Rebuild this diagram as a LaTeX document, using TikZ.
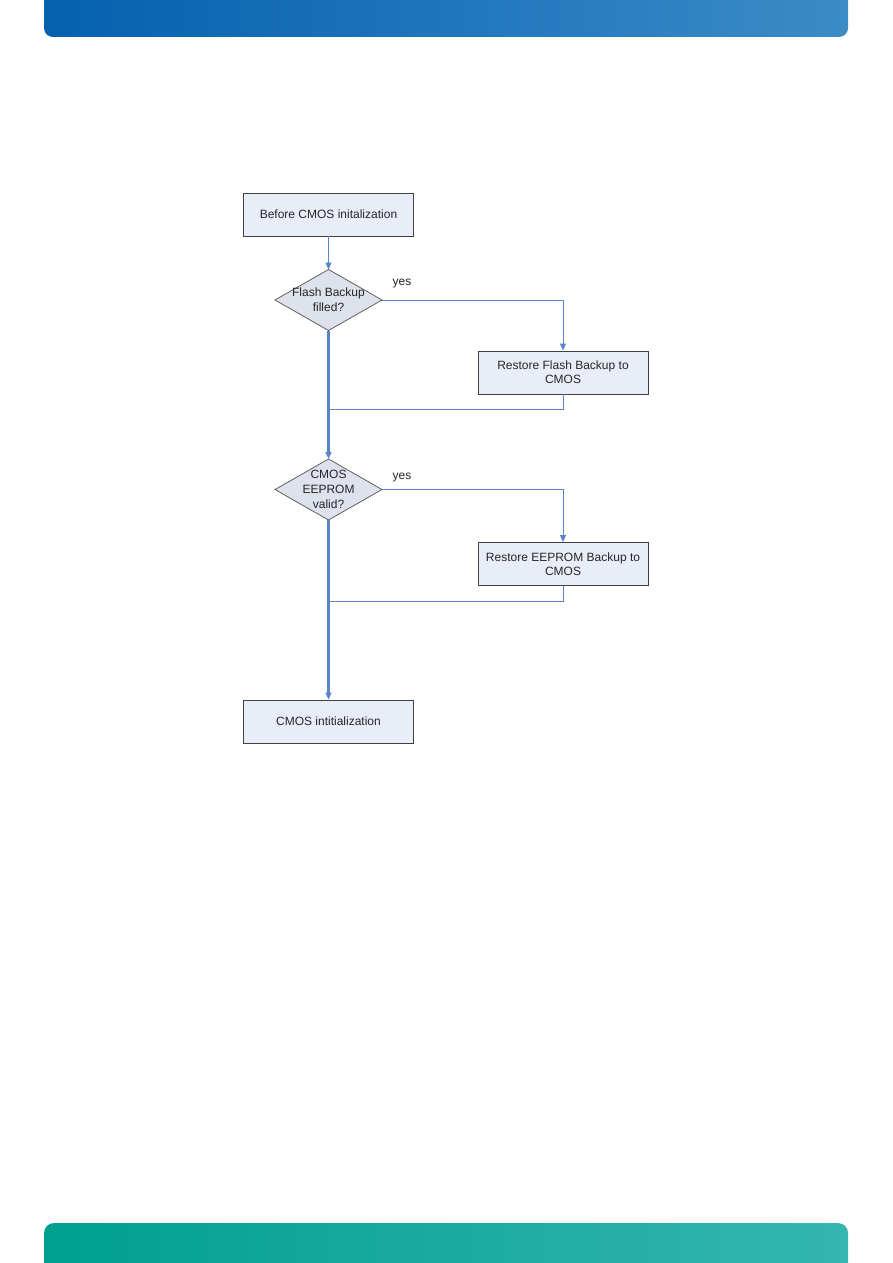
\documentclass[tikz,border=0pt]{standalone}
\usepackage{fontspec}
\setmainfont{Liberation Sans}
\usetikzlibrary{shapes.geometric,arrows.meta}
\definecolor{hdrL}{HTML}{0560AE}
\definecolor{hdrR}{HTML}{3C8BC7}
\definecolor{ftrL}{HTML}{00A08E}
\definecolor{ftrR}{HTML}{35B6AF}
\definecolor{flow}{HTML}{5A86C9}
\definecolor{boxfill}{HTML}{E9EDF8}
\definecolor{dfill}{HTML}{DDE2EC}
\definecolor{boxline}{HTML}{404040}
\definecolor{dline}{HTML}{606060}
\tikzset{
  procbox/.style={draw=boxline, fill=boxfill, line width=0.9pt, minimum width=170pt, minimum height=43pt, align=center, inner sep=0pt, font=\fontsize{12}{14}\selectfont, text=black!85},
  decbox/.style={diamond, draw=dline, fill=dfill, line width=0.8pt, minimum width=107pt, minimum height=61pt, inner sep=0pt, outer sep=0pt},
  dectext/.style={align=center, inner sep=0pt, font=\fontsize{12}{15}\selectfont, text=black!85},
  mainline/.style={draw=flow, line width=2.1pt},
  branch/.style={draw=flow, line width=0.9pt},
  tip/.style={-{Triangle[length=7pt,width=6pt]}},
  lbl/.style={font=\fontsize{12}{14}\selectfont, text=black!85, inner sep=0pt}
}
\begin{document}
\begin{tikzpicture}[x=1pt,y=-1pt]
\useasboundingbox (0,0) rectangle (893,1263);
\fill[white] (0,0) rectangle (893,1263);
% header bar
\shade[left color=hdrL, right color=hdrR] (44,0) [rounded corners=9pt] -- (44,37) -- (848,37) [sharp corners] -- (848,0) -- cycle;
% footer bar
\shade[left color=ftrL, right color=ftrR] (44,1263) [rounded corners=10pt] -- (44,1223) -- (848,1223) [sharp corners] -- (848,1263) -- cycle;

% nodes
\node[procbox] (b1) at (328.5,214.5) {Before CMOS initalization};
\node[decbox] (d1) at (328.5,300) {};
\node[dectext] (d1t) at (d1.center) {Flash Backup\\filled?};
\node[procbox] (b2) at (563,372.5) {Restore Flash Backup to\\CMOS};
\node[decbox] (d2) at (328.5,489.5) {};
\node[dectext] (d2t) at (d2.center) {CMOS\\EEPROM\\valid?};
\node[procbox] (b3) at (563,564) {Restore EEPROM Backup to\\CMOS};
\node[procbox] (b4) at (328.5,721.5) {CMOS intitialization};

\node[lbl] (y1) at (402,284) {yes};
\node[lbl] (y2) at (402,478) {yes};

\coordinate (m1) at (328.5,409.5);
\coordinate (m2) at (328.5,601);

% connectors
\draw[branch,tip] (b1.south) -- (d1.north);
\draw[branch,tip] (d1.east) -| (b2.north);
\draw[branch] (b2.south) |- (m1);
\draw[mainline,tip] (d1.south) -- (d2.north);
\draw[branch,tip] (d2.east) -| (b3.north);
\draw[branch] (b3.south) |- (m2);
\draw[mainline,tip] (d2.south) -- (b4.north);
\end{tikzpicture}
\end{document}
